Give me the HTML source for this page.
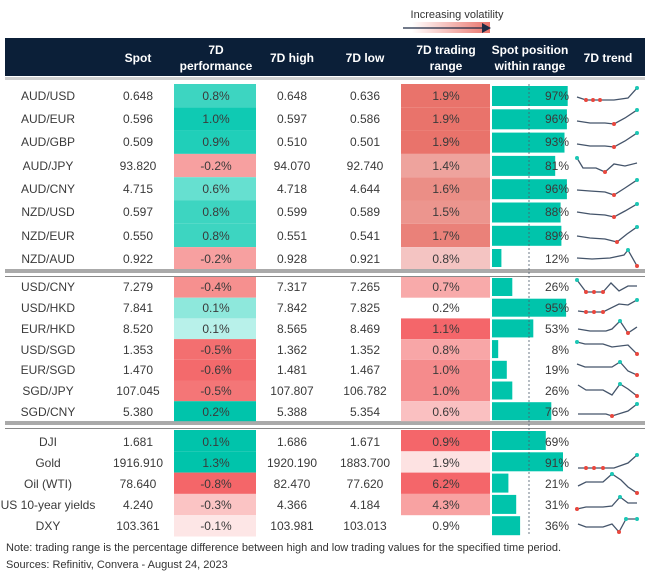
<!DOCTYPE html>
<html><head><meta charset="utf-8"><style>
html,body{margin:0;padding:0;background:#fff;}
svg{display:block;font-family:"Liberation Sans",sans-serif;}
.t{font-size:12px;fill:#3a3a3a;text-anchor:middle;}
.r{font-size:12px;fill:#3a3a3a;text-anchor:end;}
.h{font-size:12px;fill:#fff;font-weight:bold;text-anchor:middle;}
.s{fill:none;stroke:#44546a;stroke-width:1.3;}
</style></head><body>
<svg width="649" height="572" viewBox="0 0 649 572">
<defs><linearGradient id="g" x1="0" x2="1"><stop offset="0" stop-color="#fff"/><stop offset="1" stop-color="#e9736b"/></linearGradient></defs>
<text x="457" y="18" style="font-size:11px;fill:#333;text-anchor:middle">Increasing volatility</text>
<rect x="412" y="22" width="78" height="11" fill="url(#g)"/>
<line x1="403" y1="28" x2="484" y2="28" stroke="#1d2a44" stroke-width="1.2"/>
<polygon points="482,23 491,28 482,33" fill="#1d2a44"/>
<rect x="5" y="38" width="640" height="38" fill="#0b1f38"/>
<text class="h" x="138" y="62">Spot</text>
<text class="h" x="216" y="54">7D</text><text class="h" x="216" y="70">performance</text>
<text class="h" x="292" y="62">7D high</text>
<text class="h" x="365" y="62">7D low</text>
<text class="h" x="446" y="54">7D trading</text><text class="h" x="446" y="70">range</text>
<text class="h" x="530" y="54">Spot position</text><text class="h" x="530" y="70">within range</text>
<text class="h" x="608" y="62">7D trend</text>
<rect x="5" y="77" width="640" height="3" fill="#d0d0d0"/>
<rect x="5" y="269" width="640" height="4" fill="#aaa"/><rect x="5" y="276" width="640" height="1" fill="#888"/>
<rect x="5" y="421" width="640" height="4" fill="#aaa"/><rect x="5" y="428" width="640" height="1" fill="#888"/>

<!-- group 1 -->
<g>
<rect x="174" y="84" width="82" height="23.3" fill="#3dd5c1"/><rect x="401" y="84" width="89" height="23.3" fill="#e9736b"/><rect x="492" y="86" width="75.7" height="20" fill="#00c4ab"/>
<text class="t" x="48" y="100">AUD/USD</text><text class="t" x="138" y="100">0.648</text><text class="t" x="216" y="100">0.8%</text><text class="t" x="292" y="100">0.648</text><text class="t" x="365" y="100">0.636</text><text class="t" x="446" y="100">1.9%</text><text class="r" x="569" y="100">97%</text>
<polyline class="s" points="577,97 586,100 593,100 600,100 614,100 628,98 637,88"/>
<g fill="#e8473e"><circle cx="586" cy="100" r="2"/><circle cx="593" cy="100" r="2"/><circle cx="600" cy="100" r="2"/></g><circle cx="637" cy="88" r="2" fill="#1cc7b5"/>

<rect x="174" y="107.3" width="82" height="23.3" fill="#0fcab3"/><rect x="401" y="107.3" width="89" height="23.3" fill="#e9736b"/><rect x="492" y="109.3" width="74.9" height="20" fill="#00c4ab"/>
<text class="t" x="48" y="123">AUD/EUR</text><text class="t" x="138" y="123">0.596</text><text class="t" x="216" y="123">1.0%</text><text class="t" x="292" y="123">0.597</text><text class="t" x="365" y="123">0.586</text><text class="t" x="446" y="123">1.9%</text><text class="r" x="569" y="123">96%</text>
<polyline class="s" points="577,121 590,123 605,123 614,124 625,118 637,110"/><circle cx="614" cy="124" r="2" fill="#e8473e"/><circle cx="637" cy="110" r="2" fill="#1cc7b5"/>

<rect x="174" y="130.6" width="82" height="23.3" fill="#20cfb9"/><rect x="401" y="130.6" width="89" height="23.3" fill="#e9736b"/><rect x="492" y="132.6" width="72.5" height="20" fill="#00c4ab"/>
<text class="t" x="48" y="146">AUD/GBP</text><text class="t" x="138" y="146">0.509</text><text class="t" x="216" y="146">0.9%</text><text class="t" x="292" y="146">0.510</text><text class="t" x="365" y="146">0.501</text><text class="t" x="446" y="146">1.9%</text><text class="r" x="569" y="146">93%</text>
<polyline class="s" points="577,144 590,146 605,146 614,147 625,141 637,133"/><circle cx="614" cy="147" r="2" fill="#e8473e"/><circle cx="637" cy="133" r="2" fill="#1cc7b5"/>

<rect x="174" y="153.9" width="82" height="23.3" fill="#f7a0a0"/><rect x="401" y="153.9" width="89" height="23.3" fill="#eea39d"/><rect x="492" y="155.9" width="63.2" height="20" fill="#00c4ab"/>
<text class="t" x="48" y="170">AUD/JPY</text><text class="t" x="138" y="170">93.820</text><text class="t" x="216" y="170">-0.2%</text><text class="t" x="292" y="170">94.070</text><text class="t" x="365" y="170">92.740</text><text class="t" x="446" y="170">1.4%</text><text class="r" x="569" y="170">81%</text>
<polyline class="s" points="577,158 583,168 596,168 605,172 614,164 625,166 637,163"/><circle cx="605" cy="172" r="2" fill="#e8473e"/><circle cx="577" cy="158" r="2" fill="#1cc7b5"/>

<rect x="174" y="177.2" width="82" height="23.3" fill="#66e0d0"/><rect x="401" y="177.2" width="89" height="23.3" fill="#eb8e86"/><rect x="492" y="179.2" width="74.9" height="20" fill="#00c4ab"/>
<text class="t" x="48" y="193">AUD/CNY</text><text class="t" x="138" y="193">4.715</text><text class="t" x="216" y="193">0.6%</text><text class="t" x="292" y="193">4.718</text><text class="t" x="365" y="193">4.644</text><text class="t" x="446" y="193">1.6%</text><text class="r" x="569" y="193">96%</text>
<polyline class="s" points="577,190 590,191 605,192 614,195 625,188 637,180"/><circle cx="614" cy="195" r="2" fill="#e8473e"/><circle cx="637" cy="180" r="2" fill="#1cc7b5"/>

<rect x="174" y="200.5" width="82" height="23.3" fill="#3dd5c1"/><rect x="401" y="200.5" width="89" height="23.3" fill="#ec958e"/><rect x="492" y="202.5" width="68.6" height="20" fill="#00c4ab"/>
<text class="t" x="48" y="216">NZD/USD</text><text class="t" x="138" y="216">0.597</text><text class="t" x="216" y="216">0.8%</text><text class="t" x="292" y="216">0.599</text><text class="t" x="365" y="216">0.589</text><text class="t" x="446" y="216">1.5%</text><text class="r" x="569" y="216">88%</text>
<polyline class="s" points="577,212 590,214 605,215 614,217 625,211 637,204"/><circle cx="614" cy="217" r="2" fill="#e8473e"/><circle cx="637" cy="204" r="2" fill="#1cc7b5"/>

<rect x="174" y="223.8" width="82" height="23.3" fill="#3dd5c1"/><rect x="401" y="223.8" width="89" height="23.3" fill="#ea8179"/><rect x="492" y="225.8" width="69.4" height="20" fill="#00c4ab"/>
<text class="t" x="48" y="240">NZD/EUR</text><text class="t" x="138" y="240">0.550</text><text class="t" x="216" y="240">0.8%</text><text class="t" x="292" y="240">0.551</text><text class="t" x="365" y="240">0.541</text><text class="t" x="446" y="240">1.7%</text><text class="r" x="569" y="240">89%</text>
<polyline class="s" points="577,236 590,238 605,239 617,242 627,234 637,227"/><circle cx="617" cy="242" r="2" fill="#e8473e"/><circle cx="637" cy="227" r="2" fill="#1cc7b5"/>

<rect x="174" y="247.1" width="82" height="21.9" fill="#f7a0a0"/><rect x="401" y="247.1" width="89" height="21.9" fill="#f4c4c2"/><rect x="492" y="249" width="9.4" height="18" fill="#00c4ab"/>
<text class="t" x="48" y="263">NZD/AUD</text><text class="t" x="138" y="263">0.922</text><text class="t" x="216" y="263">-0.2%</text><text class="t" x="292" y="263">0.928</text><text class="t" x="365" y="263">0.921</text><text class="t" x="446" y="263">0.8%</text><text class="r" x="569" y="263">12%</text>
<polyline class="s" points="577,258 592,259 610,258 624,255 628,250 637,266"/><circle cx="628" cy="250" r="2" fill="#1cc7b5"/><circle cx="637" cy="266" r="2" fill="#e8473e"/>
</g>

<!-- group 2 -->
<g>
<rect x="174" y="277" width="82" height="20.7" fill="#f6908f"/><rect x="401" y="277" width="89" height="20.7" fill="#f8aaaa"/><rect x="492" y="278" width="20.3" height="18" fill="#00c4ab"/>
<text class="t" x="48" y="291">USD/CNY</text><text class="t" x="138" y="291">7.279</text><text class="t" x="216" y="291">-0.4%</text><text class="t" x="292" y="291">7.317</text><text class="t" x="365" y="291">7.265</text><text class="t" x="446" y="291">0.7%</text><text class="r" x="569" y="291">26%</text>
<polyline class="s" points="577,280 586,292 594,292 603,292 611,283 619,291 628,286 637,286"/><circle cx="577" cy="280" r="2" fill="#1cc7b5"/><g fill="#e8473e"><circle cx="586" cy="292" r="2"/><circle cx="594" cy="292" r="2"/><circle cx="603" cy="292" r="2"/></g>

<rect x="174" y="297.7" width="82" height="20.7" fill="#8ee8dc"/><rect x="492" y="298.7" width="74.1" height="18" fill="#00c4ab"/>
<text class="t" x="48" y="312">USD/HKD</text><text class="t" x="138" y="312">7.841</text><text class="t" x="216" y="312">0.1%</text><text class="t" x="292" y="312">7.842</text><text class="t" x="365" y="312">7.825</text><text class="t" x="446" y="312">0.2%</text><text class="r" x="569" y="312">95%</text>
<polyline class="s" points="578,311 586,312 594,312 603,312 619,304 628,305 637,300"/><g fill="#e8473e"><circle cx="586" cy="312" r="2"/><circle cx="594" cy="312" r="2"/><circle cx="603" cy="312" r="2"/></g><circle cx="637" cy="300" r="2" fill="#1cc7b5"/>

<rect x="174" y="318.4" width="82" height="20.7" fill="#b8f1ea"/><rect x="401" y="318.4" width="89" height="20.7" fill="#f4666a"/><rect x="492" y="319.4" width="41.3" height="18" fill="#00c4ab"/>
<text class="t" x="48" y="333">EUR/HKD</text><text class="t" x="138" y="333">8.520</text><text class="t" x="216" y="333">0.1%</text><text class="t" x="292" y="333">8.565</text><text class="t" x="365" y="333">8.469</text><text class="t" x="446" y="333">1.1%</text><text class="r" x="569" y="333">53%</text>
<polyline class="s" points="578,329 590,331 606,331 612,329 620,321 628,333 637,327"/><circle cx="620" cy="321" r="2" fill="#1cc7b5"/><circle cx="628" cy="333" r="2" fill="#e8473e"/>

<rect x="174" y="339.1" width="82" height="20.7" fill="#f36f70"/><rect x="401" y="339.1" width="89" height="20.7" fill="#f8a6a7"/><rect x="492" y="340.1" width="6.2" height="18" fill="#00c4ab"/>
<text class="t" x="48" y="354">USD/SGD</text><text class="t" x="138" y="354">1.353</text><text class="t" x="216" y="354">-0.5%</text><text class="t" x="292" y="354">1.362</text><text class="t" x="365" y="354">1.352</text><text class="t" x="446" y="354">0.8%</text><text class="r" x="569" y="354">8%</text>
<polyline class="s" points="577,342 585,344 603,344 612,347 628,345 637,354"/><circle cx="577" cy="342" r="2" fill="#1cc7b5"/><circle cx="637" cy="354" r="2" fill="#e8473e"/>

<rect x="174" y="359.8" width="82" height="20.7" fill="#f36a6c"/><rect x="401" y="359.8" width="89" height="20.7" fill="#f58b8c"/><rect x="492" y="360.8" width="14.8" height="18" fill="#00c4ab"/>
<text class="t" x="48" y="374">EUR/SGD</text><text class="t" x="138" y="374">1.470</text><text class="t" x="216" y="374">-0.6%</text><text class="t" x="292" y="374">1.481</text><text class="t" x="365" y="374">1.467</text><text class="t" x="446" y="374">1.0%</text><text class="r" x="569" y="374">19%</text>
<polyline class="s" points="577,364 585,367 612,367 620,362 628,371 637,375"/><circle cx="620" cy="362" r="2" fill="#1cc7b5"/><circle cx="637" cy="375" r="2" fill="#e8473e"/>

<rect x="174" y="380.5" width="82" height="20.7" fill="#f47677"/><rect x="401" y="380.5" width="89" height="20.7" fill="#f58b8c"/><rect x="492" y="381.5" width="20.3" height="18" fill="#00c4ab"/>
<text class="t" x="48" y="395">SGD/JPY</text><text class="t" x="138" y="395">107.045</text><text class="t" x="216" y="395">-0.5%</text><text class="t" x="292" y="395">107.807</text><text class="t" x="365" y="395">106.782</text><text class="t" x="446" y="395">1.0%</text><text class="r" x="569" y="395">26%</text>
<polyline class="s" points="578,385 586,390 603,390 612,395 620,384 628,389 637,396"/><circle cx="620" cy="384" r="2" fill="#1cc7b5"/><circle cx="637" cy="396" r="2" fill="#e8473e"/>

<rect x="174" y="401.2" width="82" height="20" fill="#00c4ab"/><rect x="401" y="401.2" width="89" height="20" fill="#fac0c1"/><rect x="492" y="402.2" width="59.3" height="18" fill="#00c4ab"/>
<text class="t" x="48" y="416">SGD/CNY</text><text class="t" x="138" y="416">5.380</text><text class="t" x="216" y="416">0.2%</text><text class="t" x="292" y="416">5.388</text><text class="t" x="365" y="416">5.354</text><text class="t" x="446" y="416">0.6%</text><text class="r" x="569" y="416">76%</text>
<polyline class="s" points="578,414 606,414 612,416 628,411 637,404"/><circle cx="612" cy="416" r="2" fill="#e8473e"/><circle cx="637" cy="404" r="2" fill="#1cc7b5"/>
</g>

<!-- group 3 -->
<g>
<rect x="174" y="430" width="82" height="21.3" fill="#00c4ab"/><rect x="401" y="430" width="89" height="21.3" fill="#f4666a"/><rect x="492" y="431" width="53.8" height="19" fill="#00c4ab"/>
<text class="t" x="48" y="446">DJI</text><text class="t" x="138" y="446">1.681</text><text class="t" x="216" y="446">0.1%</text><text class="t" x="292" y="446">1.686</text><text class="t" x="365" y="446">1.671</text><text class="t" x="446" y="446">0.9%</text><text class="r" x="569" y="446">69%</text>

<rect x="174" y="451.3" width="82" height="21.3" fill="#00c4ab"/><rect x="401" y="451.3" width="89" height="21.3" fill="#fde2e2"/><rect x="492" y="452.3" width="71" height="19" fill="#00c4ab"/>
<text class="t" x="48" y="467">Gold</text><text class="t" x="138" y="467">1916.910</text><text class="t" x="216" y="467">1.3%</text><text class="t" x="292" y="467">1920.190</text><text class="t" x="365" y="467">1883.700</text><text class="t" x="446" y="467">1.9%</text><text class="r" x="569" y="467">91%</text>
<polyline class="s" points="578,468 586,468 594,468 603,468 614,468 628,463 637,455"/><g fill="#e8473e"><circle cx="586" cy="468" r="2"/><circle cx="594" cy="468" r="2"/><circle cx="603" cy="468" r="2"/></g><circle cx="637" cy="455" r="2" fill="#1cc7b5"/>

<rect x="174" y="472.6" width="82" height="21.3" fill="#f46669"/><rect x="401" y="472.6" width="89" height="21.3" fill="#f4666a"/><rect x="492" y="473.6" width="16.4" height="19" fill="#00c4ab"/>
<text class="t" x="48" y="488">Oil (WTI)</text><text class="t" x="138" y="488">78.640</text><text class="t" x="216" y="488">-0.8%</text><text class="t" x="292" y="488">82.470</text><text class="t" x="365" y="488">77.620</text><text class="t" x="446" y="488">6.2%</text><text class="r" x="569" y="488">21%</text>
<polyline class="s" points="578,486 586,482 603,482 612,474 621,480 628,487 637,493"/><circle cx="612" cy="474" r="2" fill="#1cc7b5"/><circle cx="637" cy="493" r="2" fill="#e8473e"/>

<rect x="174" y="493.9" width="82" height="21.3" fill="#fbc4c4"/><rect x="401" y="493.9" width="89" height="21.3" fill="#f8a2a2"/><rect x="492" y="494.9" width="24.2" height="19" fill="#00c4ab"/>
<text class="t" x="48" y="509">US 10-year yields</text><text class="t" x="138" y="509">4.240</text><text class="t" x="216" y="509">-0.3%</text><text class="t" x="292" y="509">4.366</text><text class="t" x="365" y="509">4.184</text><text class="t" x="446" y="509">4.3%</text><text class="r" x="569" y="509">31%</text>
<polyline class="s" points="577,509 586,507 603,507 612,506 620,497 628,503 637,503"/><circle cx="577" cy="509" r="2" fill="#e8473e"/><circle cx="620" cy="497" r="2" fill="#1cc7b5"/>

<rect x="174" y="515.2" width="82" height="21.3" fill="#fde6e6"/><rect x="492" y="516.2" width="28.1" height="19" fill="#00c4ab"/>
<text class="t" x="48" y="530">DXY</text><text class="t" x="138" y="530">103.361</text><text class="t" x="216" y="530">-0.1%</text><text class="t" x="292" y="530">103.981</text><text class="t" x="365" y="530">103.013</text><text class="t" x="446" y="530">0.9%</text><text class="r" x="569" y="530">36%</text>
<polyline class="s" points="578,524 586,527 603,527 612,524 619,532 626,519 637,519"/><circle cx="619" cy="532" r="2" fill="#e8473e"/><circle cx="626" cy="519" r="2" fill="#1cc7b5"/><circle cx="637" cy="519" r="2" fill="#1cc7b5"/>
</g>

<line x1="529" y1="84" x2="529" y2="536" stroke="#4a5a6a" stroke-width="0.8" stroke-dasharray="2,2"/>
<text x="6" y="551" style="font-size:11px;fill:#333">Note: trading range is the percentage difference between high and low trading values for the specified time period.</text>
<text x="6" y="568" style="font-size:11px;fill:#333">Sources: Refinitiv, Convera - August 24, 2023</text>
</svg>
</body></html>
